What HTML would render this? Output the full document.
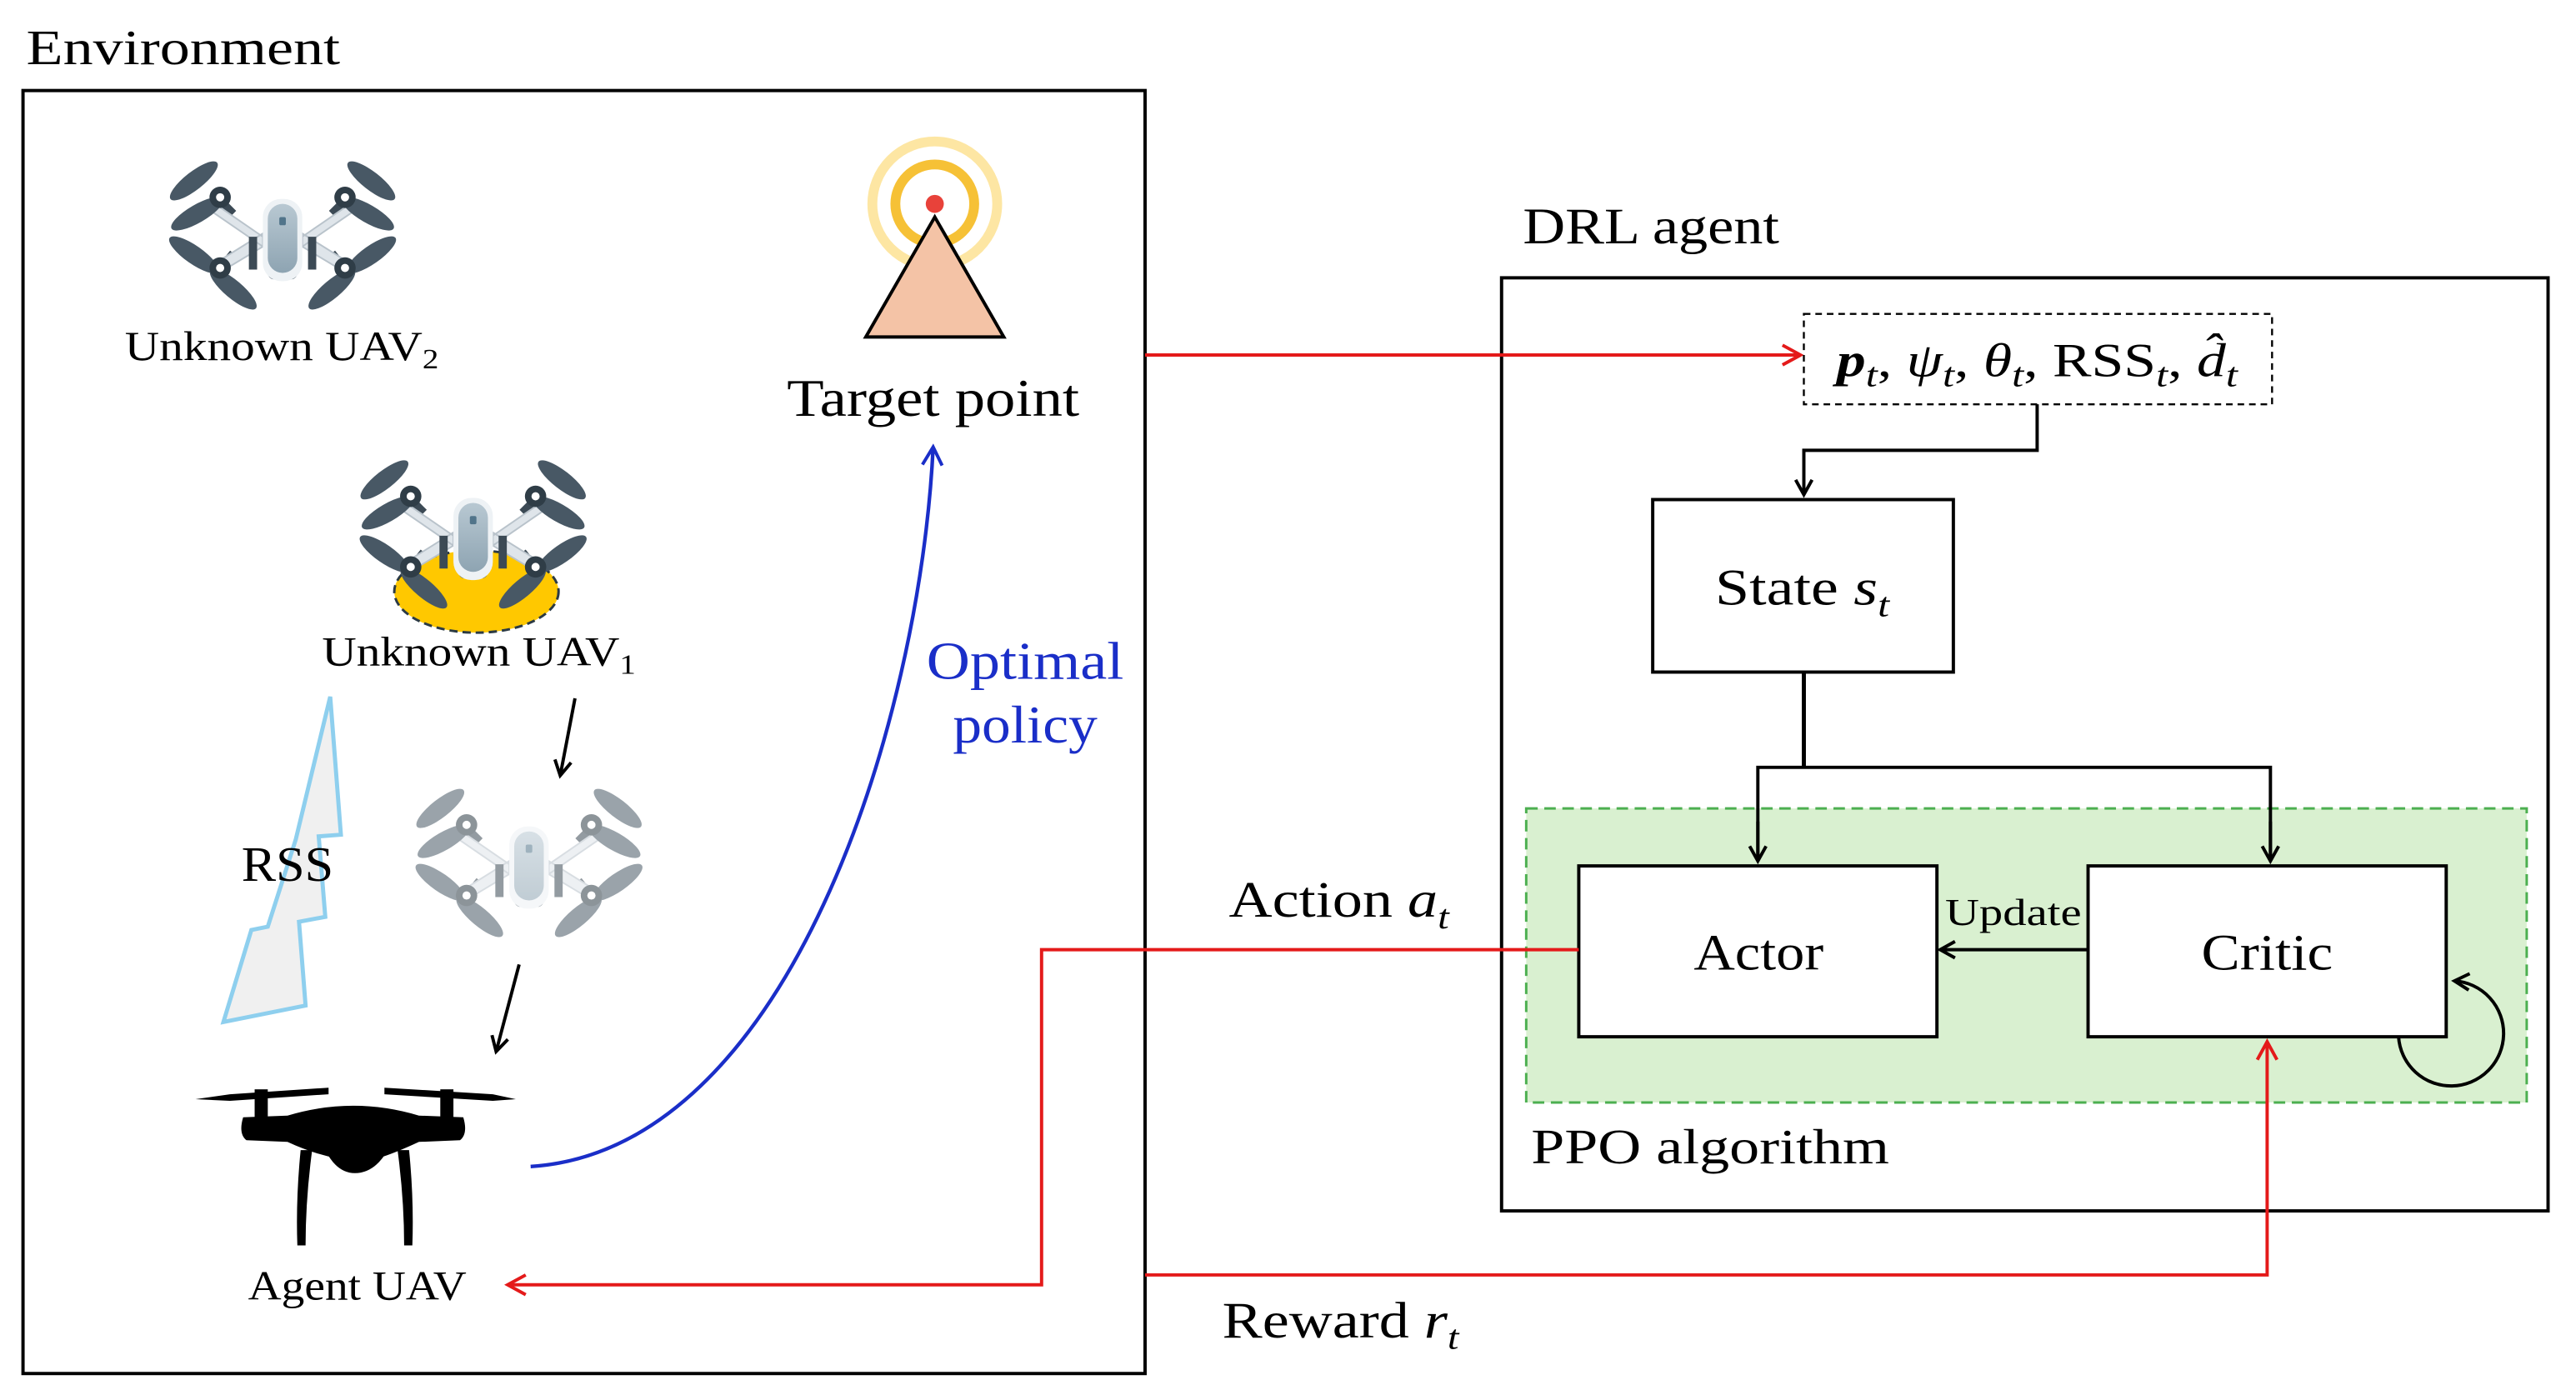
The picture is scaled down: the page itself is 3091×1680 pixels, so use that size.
<!DOCTYPE html>
<html><head><meta charset="utf-8"><style>
html,body{margin:0;padding:0;background:#fff;}
svg{display:block;}
text{font-family:"Liberation Serif",serif;}
</style></head><body>
<svg width="3091" height="1680" viewBox="0 0 1568 852" xmlns="http://www.w3.org/2000/svg">
<defs>
<linearGradient id="bg" x1="0" y1="0" x2="0" y2="1"><stop offset="0" stop-color="#b8c8d2"/><stop offset="1" stop-color="#8ea4b2"/></linearGradient>
<g id="drone">
 <path d="M-30,-10 L-38,-18 M30,-10 L38,-18 M-30,14 L-38,24 M30,14 L38,24" stroke="#3c4a55" stroke-width="5"/>
 <path d="M-44,-18 L-12,4 L-12,10 L-44,-12Z M44,-18 L12,4 L12,10 L44,-12Z M-44,22 L-12,2 L-12,10 L-42,28Z M44,22 L12,2 L12,10 L42,28Z" fill="#dfe5ea" stroke="#b9c3cb" stroke-width="1"/>
 <path d="M-18,4 L-18,24 M18,4 L18,24" stroke="#3c4a55" stroke-width="5" fill="none"/>
 <rect x="-9" y="16" width="18" height="14" rx="4" fill="#4e5f6b"/>
 <rect x="-12" y="-19" width="24" height="50" rx="11" fill="#eef2f5"/>
 <rect x="-9" y="-16" width="18" height="42" rx="9" fill="url(#bg)"/>
 <rect x="-2" y="-8" width="4" height="5" rx="1" fill="#51748a"/>
 <g fill="#485865">
  <ellipse cx="-54" cy="-30" rx="18" ry="5.5" transform="rotate(-38 -54 -30)"/>
  <ellipse cx="-52" cy="-10" rx="18" ry="5.5" transform="rotate(-30 -52 -10)"/>
  <ellipse cx="54" cy="-30" rx="18" ry="5.5" transform="rotate(38 54 -30)"/>
  <ellipse cx="52" cy="-10" rx="18" ry="5.5" transform="rotate(30 52 -10)"/>
  <ellipse cx="-54" cy="15" rx="18" ry="5.5" transform="rotate(35 -54 15)"/>
  <ellipse cx="-30" cy="36" rx="18" ry="5.5" transform="rotate(40 -30 36)"/>
  <ellipse cx="54" cy="15" rx="18" ry="5.5" transform="rotate(-35 54 15)"/>
  <ellipse cx="30" cy="36" rx="18" ry="5.5" transform="rotate(-40 30 36)"/>
 </g>
 <g fill="#2f3d47"><circle cx="-38" cy="-20" r="6.5"/><circle cx="38" cy="-20" r="6.5"/><circle cx="-38" cy="23" r="6.5"/><circle cx="38" cy="23" r="6.5"/></g>
 <g fill="#fff"><circle cx="-38" cy="-20" r="2.5"/><circle cx="38" cy="-20" r="2.5"/><circle cx="-38" cy="23" r="2.5"/><circle cx="38" cy="23" r="2.5"/></g>
</g>
<marker id="ab" markerWidth="12" markerHeight="12" refX="10" refY="6" orient="auto" markerUnits="userSpaceOnUse"><path d="M1,1 L10,6 L1,11" fill="none" stroke="#000" stroke-width="2"/></marker>
<marker id="ar" markerWidth="14" markerHeight="14" refX="12" refY="7" orient="auto" markerUnits="userSpaceOnUse"><path d="M1,1 L12,7 L1,13" fill="none" stroke="#e41a1a" stroke-width="2"/></marker>
<marker id="abl" markerWidth="14" markerHeight="14" refX="12" refY="7" orient="auto" markerUnits="userSpaceOnUse"><path d="M1,1 L12,7 L1,13" fill="none" stroke="#1a2ec8" stroke-width="2"/></marker>
</defs>

<text x="16" y="39" font-size="30" textLength="191" lengthAdjust="spacingAndGlyphs">Environment</text>
<rect x="14" y="55" width="683" height="781" fill="none" stroke="#000" stroke-width="2"/>

<use href="#drone" transform="translate(172,140)"/>
<text x="76" y="219" font-size="25" textLength="191" lengthAdjust="spacingAndGlyphs">Unknown UAV<tspan font-size="17" dy="5">2</tspan></text>

<ellipse cx="290" cy="360" rx="50" ry="25" fill="#ffc800" stroke="#2b3a44" stroke-width="1.5" stroke-dasharray="5,3"/>
<use href="#drone" transform="translate(288,322)"/>
<text x="196" y="405" font-size="25" textLength="191" lengthAdjust="spacingAndGlyphs">Unknown UAV<tspan font-size="17" dy="5">1</tspan></text>

<g opacity="0.55"><use href="#drone" transform="translate(322,522)"/></g>

<line x1="350" y1="425" x2="341" y2="472" stroke="#000" stroke-width="2" marker-end="url(#ab)"/>
<line x1="316" y1="587" x2="302" y2="640" stroke="#000" stroke-width="2" marker-end="url(#ab)"/>

<polygon points="201,424 207.5,508 194,509 198,558 182,561 186,612 136,622 153,566 163,564 180,511" fill="#f0f0f0" stroke="#8ecfee" stroke-width="2.5"/>
<text x="147" y="536" font-size="30" textLength="56" lengthAdjust="spacingAndGlyphs">RSS</text>

<g fill="#000">
 <path d="M119,669 L140,666 L200,662 L200,666 L140,670Z"/>
 <path d="M234,662 L300,666 L314,669 L300,670 L234,666Z"/>
 <rect x="155" y="663" width="8" height="22"/><rect x="268" y="663" width="8" height="22"/>
 <path d="M148,680 L175,679 Q215,667 255,679 L282,680 Q285,690 280,694 L255,695 Q240,702 230,705 L205,705 Q190,702 175,695 L150,694 Q145,690 148,680Z"/>
 <path d="M198,700 Q205,714 216,714 Q228,714 236,700Z"/>
 <path d="M183,700 L190,700 Q186,730 186,758 L181,758 Q180,730 183,700Z"/>
 <path d="M242,700 L249,700 Q252,730 251,758 L246,758 Q246,730 242,700Z"/>
</g>
<text x="151" y="791" font-size="25" textLength="133" lengthAdjust="spacingAndGlyphs">Agent UAV</text>

<circle cx="569" cy="124" r="38" fill="none" stroke="#fde6a3" stroke-width="6"/>
<circle cx="569" cy="124" r="24" fill="none" stroke="#f6c136" stroke-width="6"/>
<circle cx="569" cy="124" r="5.5" fill="#e8423a"/>
<polygon points="569,132 527,205 611,205" fill="#f4c3a6" stroke="#000" stroke-width="2"/>
<text x="479" y="253" font-size="32" textLength="178" lengthAdjust="spacingAndGlyphs">Target point</text>

<path d="M323,710 C480,700 560,440 568,272" fill="none" stroke="#1a2ec8" stroke-width="2.2" marker-end="url(#abl)"/>
<text x="564" y="413" font-size="32" fill="#1a2ec8" textLength="120" lengthAdjust="spacingAndGlyphs">Optimal</text>
<text x="580" y="452" font-size="32" fill="#1a2ec8" textLength="88" lengthAdjust="spacingAndGlyphs">policy</text>

<text x="927" y="148" font-size="31" textLength="156" lengthAdjust="spacingAndGlyphs">DRL agent</text>
<rect x="914" y="169" width="637" height="568" fill="none" stroke="#000" stroke-width="2"/>

<line x1="697" y1="216" x2="1096" y2="216" stroke="#e41a1a" stroke-width="2" marker-end="url(#ar)"/>
<rect x="1098" y="191" width="285" height="55" fill="#fff" stroke="#000" stroke-width="1.2" stroke-dasharray="4,3"/>
<text x="1118" y="229" font-size="29" textLength="244" lengthAdjust="spacingAndGlyphs"><tspan font-weight="bold" font-style="italic">p</tspan><tspan font-style="italic" font-size="21" dy="6">t</tspan><tspan dy="-6">, </tspan><tspan font-style="italic">ψ</tspan><tspan font-style="italic" font-size="21" dy="6">t</tspan><tspan dy="-6">, </tspan><tspan font-style="italic">θ</tspan><tspan font-style="italic" font-size="21" dy="6">t</tspan><tspan dy="-6">, RSS</tspan><tspan font-style="italic" font-size="21" dy="6">t</tspan><tspan dy="-6">, </tspan><tspan font-style="italic">d̂</tspan><tspan font-style="italic" font-size="21" dy="6">t</tspan></text>

<polyline points="1240,246 1240,274 1098,274 1098,301" fill="none" stroke="#000" stroke-width="2" marker-end="url(#ab)"/>
<rect x="1006" y="304" width="183" height="105" fill="#fff" stroke="#000" stroke-width="2"/>
<text x="1044" y="368" font-size="31" textLength="106" lengthAdjust="spacingAndGlyphs">State <tspan font-style="italic">s</tspan><tspan font-style="italic" font-size="21" dy="7">t</tspan></text>

<rect x="929" y="492" width="609" height="179" fill="#d9f0d0" stroke="#4caf50" stroke-width="1.5" stroke-dasharray="7,4"/>
<polyline points="1098,409 1098,467" fill="none" stroke="#000" stroke-width="2.5"/>
<polyline points="1070,524 1070,467 1382,467 1382,524" fill="none" stroke="#000" stroke-width="2"/>
<line x1="1070" y1="500" x2="1070" y2="524" stroke="#000" stroke-width="2" marker-end="url(#ab)"/>
<line x1="1382" y1="500" x2="1382" y2="524" stroke="#000" stroke-width="2" marker-end="url(#ab)"/>

<rect x="961" y="527" width="218" height="104" fill="#fff" stroke="#000" stroke-width="2"/>
<text x="1031" y="590" font-size="31" textLength="79" lengthAdjust="spacingAndGlyphs">Actor</text>
<rect x="1271" y="527" width="218" height="104" fill="#fff" stroke="#000" stroke-width="2"/>
<text x="1340" y="590" font-size="31" textLength="80" lengthAdjust="spacingAndGlyphs">Critic</text>
<line x1="1271" y1="578" x2="1181" y2="578" stroke="#000" stroke-width="2" marker-end="url(#ab)"/>
<text x="1184" y="563" font-size="23" textLength="83" lengthAdjust="spacingAndGlyphs">Update</text>
<path d="M1460,631 A32,32 0 1 0 1494,597" fill="none" stroke="#000" stroke-width="2" marker-end="url(#ab)"/>
<text x="932" y="708" font-size="30" textLength="218" lengthAdjust="spacingAndGlyphs">PPO algorithm</text>

<polyline points="961,578 634,578 634,782 309,782" fill="none" stroke="#e41a1a" stroke-width="2" marker-end="url(#ar)"/>
<text x="748" y="558" font-size="31" textLength="134" lengthAdjust="spacingAndGlyphs">Action <tspan font-style="italic">a</tspan><tspan font-style="italic" font-size="21" dy="7">t</tspan></text>

<polyline points="697,776 1380,776 1380,634" fill="none" stroke="#e41a1a" stroke-width="2" marker-end="url(#ar)"/>
<text x="744" y="814" font-size="31" textLength="144" lengthAdjust="spacingAndGlyphs">Reward <tspan font-style="italic">r</tspan><tspan font-style="italic" font-size="21" dy="7">t</tspan></text>
</svg>
</body></html>
